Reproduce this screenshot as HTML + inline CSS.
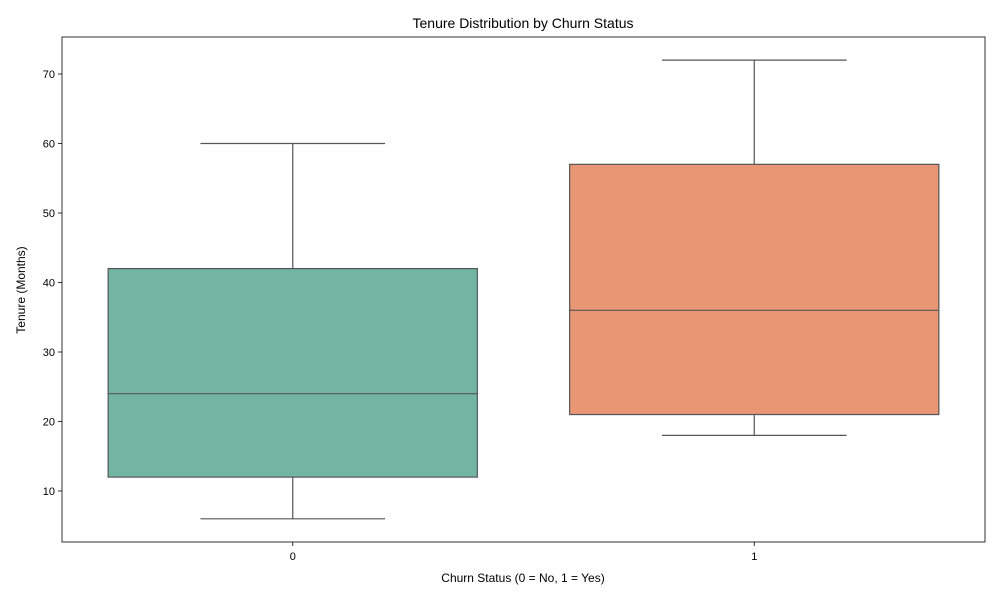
<!DOCTYPE html>
<html><head><meta charset="utf-8"><style>
body{margin:0;background:#fff;}
svg text{font-family:"Liberation Sans","DejaVu Sans",sans-serif;fill:#000;}
</style></head><body>
<svg id="chart" width="1000" height="600" xmlns="http://www.w3.org/2000/svg">
<rect x="0" y="0" width="1000" height="600" fill="#fff"/>
<text x="523" y="28" text-anchor="middle" font-size="14">Tenure Distribution by Churn Status</text>
<g id="plot"></g>
<rect x="62" y="37" width="923" height="505" fill="none" stroke="#000" stroke-width="0.8"/>
<text x="523" y="582" text-anchor="middle" font-size="12">Churn Status (0 = No, 1 = Yes)</text>
<text transform="translate(25,290) rotate(-90)" text-anchor="middle" font-size="12">Tenure (Months)</text>
</svg>
<script>
const categories=["0","1"];
const mins=[6,18];
const q1s=[12,21];
const medians=[24,36];
const q3s=[42,57];
const maxs=[60,72];
const yTicks=[10,20,30,40,50,60,70];
const colors=["#72b6a1","#e99675"];
const L=62,R=985,T=37,B=542;
const y=v=>491-(v-10)*(417/60);
const band=(R-L)/categories.length;
const xc=i=>L+band*(i+0.5);
const g=document.getElementById('plot');
const NS="http://www.w3.org/2000/svg";
function mk(tag,at){const e=document.createElementNS(NS,tag);for(const k in at)e.setAttribute(k,at[k]);g.appendChild(e);return e;}
yTicks.forEach(t=>{
 const l=mk('line',{x1:L-4,x2:L,y1:y(t),y2:y(t),stroke:'#000','stroke-width':0.8});
 
 
 const tx=mk('text',{x:L-7,y:y(t)+4,'text-anchor':'end','font-size':11});
 tx.textContent=t;
 
 
});
categories.forEach((c,i)=>{
 const cx=xc(i),bw=band*0.8,cw=bw/2,st='#555';
 const w1=mk('line',{x1:cx,x2:cx,y1:y(q3s[i]),y2:y(maxs[i]),stroke:st,'stroke-width':1.2});
 
 
 const w2=mk('line',{x1:cx,x2:cx,y1:y(q1s[i]),y2:y(mins[i]),stroke:st,'stroke-width':1.2});
 
 
 const c1=mk('line',{x1:cx-cw/2,x2:cx+cw/2,y1:y(maxs[i]),y2:y(maxs[i]),stroke:st,'stroke-width':1.2});
 
 
 const c2=mk('line',{x1:cx-cw/2,x2:cx+cw/2,y1:y(mins[i]),y2:y(mins[i]),stroke:st,'stroke-width':1.2});
 
 
 const b=mk('rect',{x:cx-bw/2,y:y(q3s[i]),width:bw,height:y(q1s[i])-y(q3s[i]),fill:colors[i],stroke:st,'stroke-width':1.2});
 
 
 const m=mk('line',{x1:cx-bw/2,x2:cx+bw/2,y1:y(medians[i]),y2:y(medians[i]),stroke:st,'stroke-width':1.2});
 
 
 const tk=mk('line',{x1:cx,x2:cx,y1:B,y2:B+4,stroke:'#000','stroke-width':0.8});
 
 
 const tx=mk('text',{x:cx,y:B+18,'text-anchor':'middle','font-size':11});
 tx.textContent=c;
 
 
});
</script>
</body></html>
